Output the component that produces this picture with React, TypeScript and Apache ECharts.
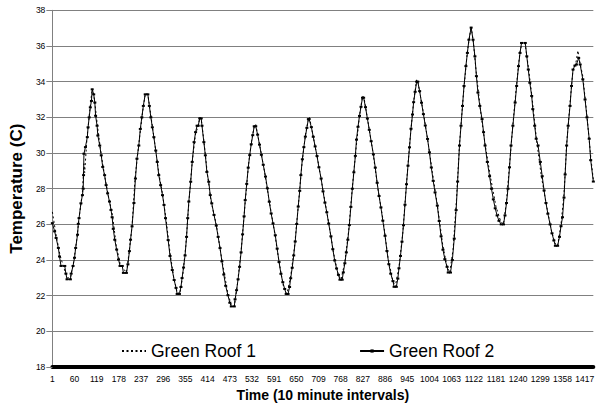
import React, { useEffect, useRef } from "react";
import * as echarts from "echarts";

// x values are interval index (0 = interval 1); tick labels are shown as index + 1
const xMin = 0;
const xMax = 1439;
const xStep = 59;
const yMin = 18;
const yMax = 38;
const yStep = 2;
const seriesNames = ["Green Roof 1", "Green Roof 2"];
const xTitle = "Time (10 minute intervals)";
const yTitle = "Temperature (C)";

const roof1: [number, number][] = [
  [0, 26.7], [10, 25.4], [20, 24.3], [30, 23.6], [40, 23.0], [48, 23.0], [56, 23.8], [64, 25.0], [72, 26.5], [80, 27.8], [84, 29.4], [86, 28.9], [92, 30.8], [99, 32.3], [106, 33.6], [112, 33.0], [120, 31.5], [130, 29.9], [140, 28.6], [150, 27.5], [160, 26.5], [170, 24.8], [180, 23.8], [186, 23.6], [197, 23.3],
  [204, 24.4], [212, 25.9], [220, 28.6], [230, 30.5], [240, 32.3], [247, 33.3], [254, 33.3], [262, 32.1], [272, 30.6], [283, 28.9], [293, 27.7], [303, 26.2], [313, 24.4], [323, 23.0], [332, 22.2], [339, 22.1],
  [346, 23.0], [355, 24.8], [363, 27.2], [372, 29.5], [381, 31.1], [388, 31.5], [392, 32.0], [396, 31.9], [403, 30.7], [412, 28.9], [422, 27.3], [436, 26.0], [451, 24.0], [467, 22.1], [476, 21.5], [484, 21.4],
  [492, 22.6], [502, 24.5], [512, 27.0], [522, 29.4], [530, 30.7], [537, 31.5], [541, 31.6], [551, 30.5], [564, 29.0], [577, 27.3], [590, 25.7], [603, 23.9], [615, 22.5], [624, 22.1],
  [634, 23.1], [644, 24.7], [654, 27.0], [664, 29.4], [673, 31.0], [681, 31.9], [684, 32.0], [694, 30.9], [707, 29.5], [720, 27.9], [735, 26.1], [748, 24.4], [760, 23.2], [768, 22.9],
  [778, 23.9], [788, 25.6], [798, 28.1], [808, 30.3], [817, 32.1], [825, 33.2], [829, 33.1], [840, 31.7], [853, 30.0], [866, 28.0], [880, 26.2], [893, 24.1], [905, 22.9], [912, 22.5],
  [922, 23.6], [932, 25.5], [942, 28.3], [952, 30.9], [961, 32.9], [969, 34.1], [973, 33.9], [985, 32.5], [998, 30.8], [1011, 28.9], [1024, 27.1], [1038, 24.9], [1050, 23.6], [1057, 23.3],
  [1066, 24.6], [1075, 27.4], [1083, 30.5], [1093, 33.2], [1104, 35.7], [1114, 37.1], [1120, 36.2], [1128, 34.4], [1140, 32.2], [1151, 30.5], [1165, 28.7], [1180, 27.0], [1192, 26.2], [1200, 26.0],
  [1208, 27.3], [1216, 29.3], [1225, 31.6], [1235, 33.9], [1244, 35.7], [1250, 36.2], [1257, 36.2], [1265, 35.0], [1275, 33.3], [1287, 30.9], [1300, 28.8], [1314, 27.1], [1328, 25.6], [1338, 24.9], [1344, 24.8],
  [1353, 26.0], [1361, 27.7], [1368, 30.5], [1377, 32.8], [1385, 34.7], [1393, 35.1], [1398, 35.74], [1402, 35.2], [1411, 34.3], [1422, 32.1], [1432, 29.8], [1439, 28.5],
];

const roof2: [number, number][] = [
  [0, 26.07], [6, 25.61], [10, 25.24], [16, 24.68], [19, 24.2], [23, 23.67], [33, 23.67], [36, 23.24], [39, 22.92], [48, 22.92], [50, 23.24], [55, 23.67], [59, 24.13], [62, 24.68], [67, 25.42], [69, 26.03], [71, 26.35], [76, 27.18], [80, 27.64], [82, 28.0], [83, 28.76], [84, 29.96], [88, 30.33], [93, 30.89], [95, 31.44], [98, 32.0], [101, 32.56], [104, 32.92], [106, 33.57], [110, 33.29], [113, 32.83], [115, 32.09], [119, 31.53], [121, 30.98], [126, 30.42], [130, 29.87], [134, 29.22], [139, 28.76], [143, 28.2], [147, 27.74], [152, 27.28], [156, 26.81], [159, 26.4], [162, 25.75], [166, 25.14], [171, 24.59], [176, 24.03], [180, 23.67], [186, 23.67], [189, 23.28], [197, 23.28],
  [201, 23.76], [205, 24.5], [208, 25.14], [212, 25.89], [217, 27.2], [221, 28.57], [225, 29.68], [230, 30.42], [234, 31.35], [238, 32.0], [242, 32.64], [247, 33.29], [254, 33.29], [258, 32.64], [262, 32.0], [266, 31.44], [270, 30.89], [275, 30.14], [279, 29.5], [283, 28.76], [288, 28.2], [293, 27.64], [297, 27.09], [301, 26.35], [308, 25.12], [313, 24.23], [319, 23.44], [324, 22.88], [329, 22.44], [332, 22.1], [338, 22.1],
  [342, 22.49], [345, 22.99], [349, 23.58], [353, 24.26], [357, 25.3], [360, 26.35], [363, 27.28], [368, 28.39], [372, 29.5], [377, 30.61], [381, 31.17], [385, 31.53], [388, 31.53], [392, 31.94], [396, 31.94], [398, 31.53], [403, 30.61], [407, 29.87], [411, 28.94], [416, 28.39], [420, 27.64], [424, 27.18], [430, 26.53], [436, 25.93], [441, 25.3], [446, 24.67], [451, 23.93], [456, 23.19], [461, 22.56], [467, 22.03], [472, 21.61], [476, 21.4], [484, 21.4],
  [486, 21.8], [490, 22.31], [494, 22.92], [498, 23.62], [502, 24.43], [506, 25.44], [510, 26.45], [513, 27.36], [517, 28.27], [521, 29.18], [525, 29.88], [529, 30.49], [533, 31.0], [537, 31.5], [541, 31.5], [546, 31.03], [551, 30.47], [556, 29.9], [561, 29.34], [567, 28.68], [572, 28.02], [577, 27.27], [582, 26.61], [587, 26.05], [593, 25.39], [598, 24.64], [603, 23.89], [608, 23.23], [613, 22.76], [618, 22.38], [622, 22.1], [627, 22.1],
  [631, 22.49], [634, 22.98], [638, 23.57], [642, 24.26], [646, 25.04], [650, 26.02], [654, 27.0], [658, 27.88], [661, 28.76], [665, 29.65], [669, 30.33], [673, 30.92], [677, 31.41], [681, 31.9], [683, 31.9], [689, 31.45], [694, 30.91], [699, 30.37], [704, 29.83], [709, 29.2], [715, 28.57], [720, 27.85], [725, 27.22], [730, 26.68], [735, 26.05], [741, 25.33], [746, 24.61], [751, 23.98], [756, 23.53], [761, 23.17], [765, 22.9], [771, 22.9],
  [774, 23.31], [778, 23.82], [782, 24.43], [786, 25.14], [790, 25.96], [794, 26.98], [798, 28.0], [802, 28.92], [806, 29.84], [809, 30.75], [813, 31.47], [817, 32.08], [821, 32.59], [825, 33.1], [828, 33.1], [833, 32.57], [838, 31.93], [843, 31.3], [848, 30.66], [854, 29.92], [859, 29.18], [864, 28.33], [869, 27.59], [874, 26.95], [879, 26.21], [885, 25.36], [890, 24.51], [895, 23.77], [900, 23.24], [906, 22.82], [909, 22.5], [915, 22.5],
  [919, 22.96], [922, 23.54], [926, 24.23], [930, 25.03], [934, 25.95], [938, 27.1], [942, 28.25], [946, 29.29], [950, 30.32], [954, 31.36], [958, 32.16], [961, 32.85], [965, 33.43], [969, 34.0], [972, 34.0], [977, 33.47], [982, 32.82], [987, 32.18], [992, 31.54], [998, 30.79], [1003, 30.04], [1008, 29.19], [1013, 28.44], [1018, 27.79], [1024, 27.05], [1029, 26.19], [1034, 25.33], [1039, 24.58], [1044, 24.05], [1050, 23.62], [1053, 23.3], [1059, 23.3],
  [1064, 24.0], [1069, 25.2], [1074, 26.8], [1078, 28.4], [1083, 30.42], [1087, 31.53], [1091, 32.64], [1095, 33.76], [1100, 34.87], [1104, 35.61], [1108, 36.35], [1114, 37.03], [1119, 36.35], [1124, 35.42], [1128, 34.31], [1132, 33.39], [1137, 32.64], [1143, 31.9], [1147, 31.17], [1151, 30.42], [1157, 29.5], [1163, 28.7], [1168, 28.0], [1173, 27.4], [1178, 26.9], [1183, 26.5], [1188, 26.2], [1194, 26.0], [1200, 26.0],
  [1204, 26.5], [1208, 27.2], [1212, 28.0], [1216, 29.2], [1220, 30.42], [1225, 31.53], [1231, 32.83], [1235, 33.76], [1240, 34.87], [1244, 35.61], [1248, 36.17], [1258, 36.17], [1262, 35.42], [1266, 34.68], [1270, 33.94], [1275, 33.2], [1278, 32.46], [1283, 31.53], [1287, 30.8], [1292, 30.42], [1298, 29.5], [1303, 28.7], [1308, 27.9], [1313, 27.2], [1318, 26.6], [1324, 26.0], [1329, 25.5], [1334, 25.1], [1338, 24.8], [1344, 24.8],
  [1349, 25.3], [1353, 25.9], [1357, 26.4], [1361, 27.5], [1364, 28.8], [1368, 30.42], [1372, 31.53], [1377, 32.64], [1381, 33.76], [1385, 34.68], [1390, 34.9], [1394, 34.96], [1400, 35.33], [1404, 34.96], [1411, 34.13], [1417, 33.0], [1422, 32.0], [1428, 30.8], [1432, 29.6], [1439, 28.4],
];

const FONT = "'Liberation Sans', Arial, sans-serif";

export default function App() {
  const ref = useRef<HTMLDivElement>(null);
  useEffect(() => {
    const chart = echarts.init(ref.current!, null, { renderer: "svg" });
    chart.setOption({
      animation: false,
      backgroundColor: "#ffffff",
      textStyle: { fontFamily: FONT },
      grid: { left: 43.5, right: 0, top: 10.3, bottom: 36.7, containLabel: false },
      legend: {
        left: 121,
        top: 342,
        padding: 0,
        itemWidth: 24,
        itemHeight: 4,
        itemGap: 103,
        textStyle: { fontSize: 17.5, color: "#000", fontFamily: FONT },
        data: [
          { name: seriesNames[0], itemStyle: { opacity: 0 } },
          { name: seriesNames[1] },
        ],
      },
      xAxis: {
        type: "value",
        min: xMin,
        max: xMax,
        interval: xStep,
        axisLine: { onZero: false, lineStyle: { color: "#000", width: 4 } },
        axisTick: { show: false },
        splitLine: { show: false },
        axisLabel: {
          formatter: (v: number) => String(v + 1),
          fontSize: 8.5,
          color: "#000",
          margin: 7,
          showMaxLabel: false,
          fontFamily: FONT,
        },
        name: xTitle,
        nameLocation: "middle",
        nameGap: 19,
        nameTextStyle: { fontWeight: "bold", fontSize: 14, color: "#000", fontFamily: FONT },
      },
      yAxis: {
        type: "value",
        min: yMin,
        max: yMax,
        interval: yStep,
        axisLine: { show: true, lineStyle: { color: "#808080", width: 1 } },
        axisTick: { show: true, length: 6, lineStyle: { color: "#808080" } },
        splitLine: { show: true, lineStyle: { color: "#808080", width: 1 } },
        axisLabel: { fontSize: 8.5, color: "#000", margin: 7, fontFamily: FONT },
        name: yTitle,
        nameLocation: "middle",
        nameGap: 18,
        nameTextStyle: { fontWeight: "bold", fontSize: 17, color: "#000", fontFamily: FONT },
      },
      series: [
        {
          name: seriesNames[0],
          type: "line",
          data: roof1,
          symbol: "none",
          lineStyle: { color: "#000", width: 1, type: [2, 2.5] },
          itemStyle: { color: "#000" },
          z: 2,
        },
        {
          name: seriesNames[1],
          type: "line",
          data: roof2,
          symbol: "rect",
          symbolSize: [3, 2],
          showSymbol: true,
          lineStyle: { color: "#000", width: 1 },
          itemStyle: { color: "#000" },
          z: 3,
        },
      ],
    });
    return () => chart.dispose();
  }, []);
  return (
    <div
      ref={ref}
      style={{ position: "absolute", left: 0, top: 0, width: 597, height: 407 }}
    />
  );
}
